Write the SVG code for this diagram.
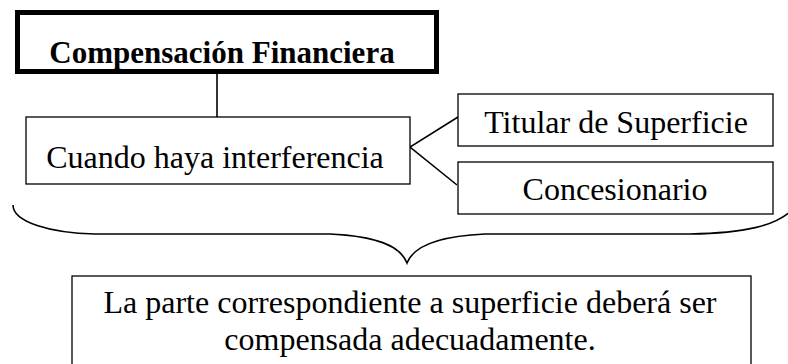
<svg xmlns="http://www.w3.org/2000/svg" width="788" height="364" viewBox="0 0 788 364">
<style>
.box{fill:#fff;stroke:#000;stroke-width:1.3}
.t{font-family:"Liberation Serif","Times New Roman",serif;font-size:32px;fill:#000;text-anchor:middle}
.b{font-weight:bold;font-size:31px}
.ln{fill:none;stroke:#000;stroke-width:1.6}
</style>
<rect width="788" height="364" fill="#fff"/>
<g id="connectors">
<line class="ln" x1="217" y1="73" x2="217" y2="117"/>
<polyline class="ln" points="458,117 410,147 457,185"/>
<path class="ln" stroke-width="2.2" d="M13,205 C13,222 50,233 95,234 L330,234 C375,236 400,245 407,263 C414,245 440,236 485,234 L690,234 C745,233 775,226 792,210"/>
</g>
<g id="title">
<rect x="17.5" y="12.5" width="419" height="59" fill="#fff" stroke="#000" stroke-width="5"/>
<text class="t b" x="222" y="63">Compensación Financiera</text>
</g>
<g id="cuando">
<rect class="box" x="26" y="117" width="384" height="67"/>
<text class="t" x="215" y="168">Cuando haya interferencia</text>
</g>
<g id="titular">
<rect class="box" x="458" y="94" width="315" height="52"/>
<text class="t" x="616" y="133">Titular de Superficie</text>
</g>
<g id="concesionario">
<rect class="box" x="458" y="162" width="315" height="52"/>
<text class="t" x="615" y="200">Concesionario</text>
</g>
<g id="resultado">
<rect class="box" x="72" y="276" width="679" height="92"/>
<text class="t" x="410" y="313">La parte correspondiente a superficie deberá ser</text>
<text class="t" x="410" y="350">compensada adecuadamente.</text>
</g>
</svg>
